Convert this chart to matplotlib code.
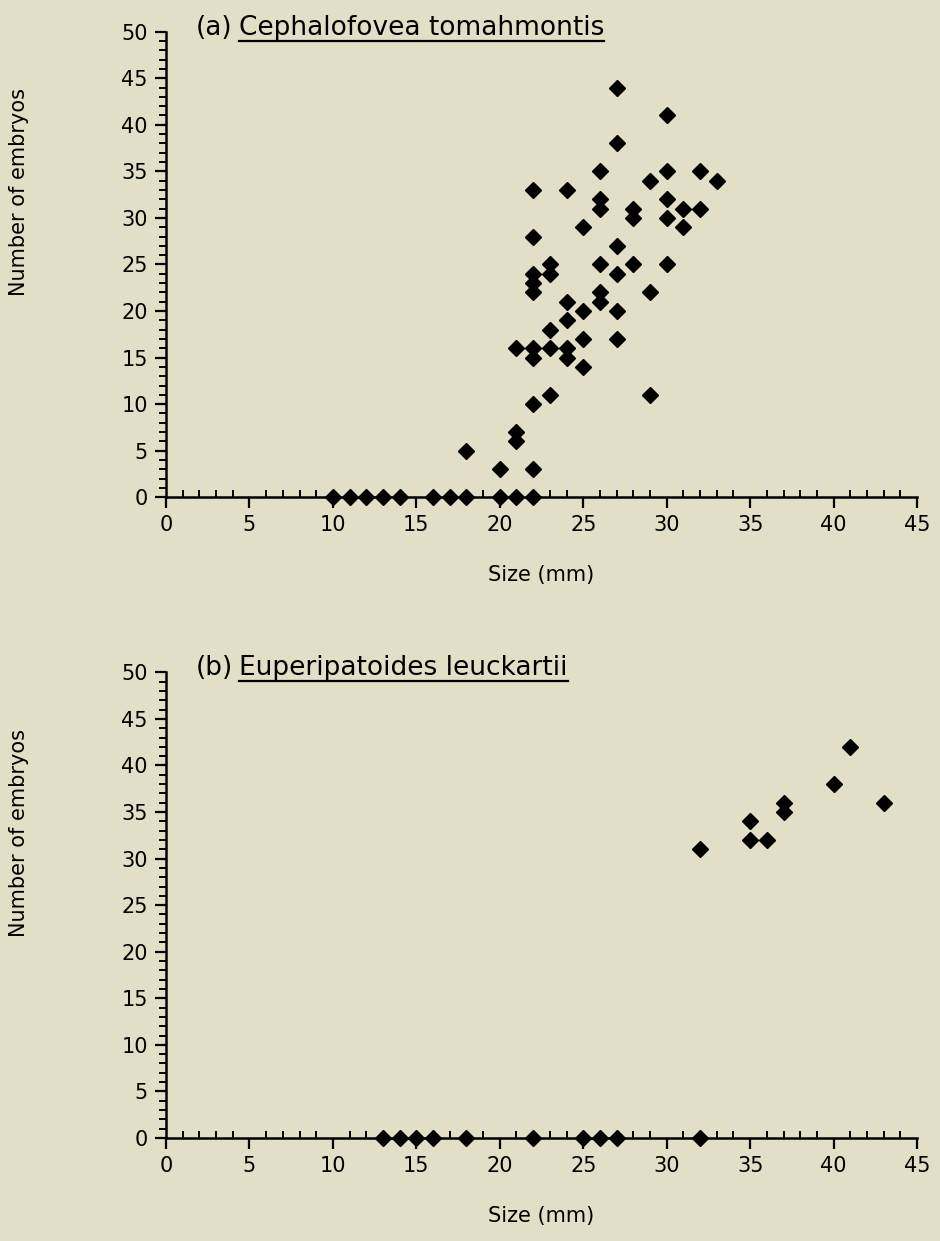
import matplotlib
matplotlib.use('Agg')
import matplotlib.pyplot as plt
from matplotlib.lines import Line2D
from matplotlib.ticker import MultipleLocator

# Panel (a) Cephalofovea tomahmontis
size_a = [10, 11, 12, 13, 14, 16, 17, 18, 20, 21, 22,
          18, 20, 21, 21, 21, 22, 22, 22, 22, 22, 22, 22, 22, 22,
          23, 23, 23, 23, 23,
          24, 24, 24, 24, 24,
          25, 25, 25, 25,
          26, 26, 26, 26, 26, 26,
          27, 27, 27, 27, 27, 27,
          28, 28, 28,
          29, 29, 29,
          30, 30, 30, 30, 30,
          31, 31,
          32, 32,
          33]
embryos_a = [0, 0, 0, 0, 0, 0, 0, 0, 0, 0, 0,
             5, 3, 7, 6, 16, 3, 10, 15, 16, 22, 23, 24, 28, 33,
             11, 16, 18, 24, 25,
             15, 16, 19, 21, 33,
             14, 17, 20, 29,
             21, 22, 25, 31, 32, 35,
             17, 20, 24, 27, 38, 44,
             25, 30, 31,
             11, 22, 34,
             25, 30, 32, 35, 41,
             29, 31,
             31, 35,
             34]

# Panel (b) Euperipatoides leuckartii
size_b = [13, 14, 15, 16, 18, 22, 25, 26, 27, 32,
          32, 35, 35, 36, 37, 37, 40, 41, 43]
embryos_b = [0, 0, 0, 0, 0, 0, 0, 0, 0, 0,
             31, 34, 32, 32, 36, 35, 38, 42, 36]

panels = [
    ('(a)', 'Cephalofovea tomahmontis', size_a, embryos_a),
    ('(b)', 'Euperipatoides leuckartii', size_b, embryos_b),
]

bg = '#e3dec6'
plt.rcParams['font.family'] = 'DejaVu Sans'

fig = plt.figure(figsize=(9.4, 12.41), dpi=100, facecolor=bg)

# axes boxes in figure coords (left, bottom, width, height)
boxes = [(0.1766, 0.5993, 0.799, 0.3752),
         (0.1766, 0.0830, 0.799, 0.3752)]

labels = []
for (tag, species, xs, ys), box in zip(panels, boxes):
    ax = fig.add_axes(box)
    ax.set_facecolor(bg)
    ax.plot(xs, ys, 'D', color='black', ms=8, clip_on=False, zorder=3)

    ax.set_xlim(0, 45)
    ax.set_ylim(0, 50)
    ax.spines['top'].set_visible(False)
    ax.spines['right'].set_visible(False)
    ax.spines['left'].set_linewidth(1.8)
    ax.spines['bottom'].set_linewidth(1.8)

    ax.xaxis.set_major_locator(MultipleLocator(5))
    ax.xaxis.set_minor_locator(MultipleLocator(1))
    ax.yaxis.set_major_locator(MultipleLocator(5))
    ax.yaxis.set_minor_locator(MultipleLocator(1))
    ax.tick_params(axis='both', which='major', length=8, width=1.6,
                   labelsize=15, colors='black', pad=5)
    ax.tick_params(axis='both', which='minor', length=5, width=1.4)
    ax.tick_params(axis='x', which='minor', direction='in')

    ax.set_xlabel('Size (mm)', fontsize=15)
    ax.xaxis.set_label_coords(0.5, -0.145)
    ax.set_ylabel('Number of embryos', fontsize=15)
    ax.yaxis.set_label_coords(-0.182, 0.655)

    t1 = ax.text(0.04, 0.9936, tag, transform=ax.transAxes, fontsize=19,
                 ha='left', va='baseline')
    labels.append((ax, t1, species))

# species names follow the panel tag, underlined
fig.canvas.draw()
renderer = fig.canvas.get_renderer()
inv = fig.transFigure.inverted()
for ax, t1, species in labels:
    bb = t1.get_window_extent(renderer)
    base = ax.transAxes.transform((0, 0.9936))[1]
    x0, y0 = inv.transform((bb.x1 + 6, base))
    t2 = fig.text(x0, y0, species, fontsize=19, ha='left', va='baseline')
    fig.canvas.draw()
    bb2 = t2.get_window_extent(renderer)
    (ux0, uy), (ux1, _) = inv.transform([(bb2.x0, base - 6), (bb2.x1, base - 6)])
    fig.add_artist(Line2D([ux0, ux1], [uy, uy], color='black', lw=1.6,
                          transform=fig.transFigure))

fig.savefig('out.png', dpi=100, facecolor=bg)
